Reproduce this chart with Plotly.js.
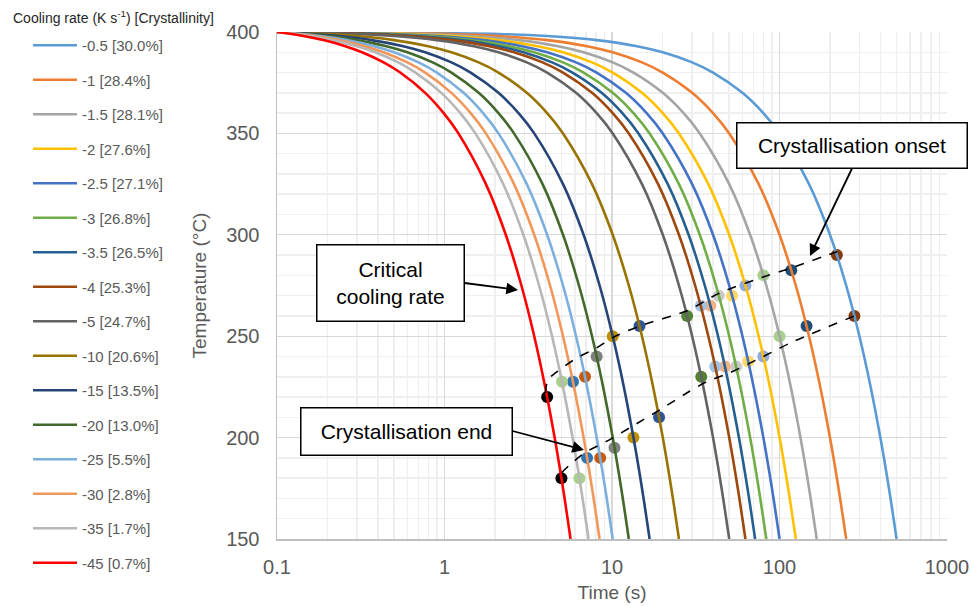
<!DOCTYPE html>
<html>
<head>
<meta charset="utf-8">
<script src="https://cdn.plot.ly/plotly-3.0.1.min.js"></script>
<style>
  html, body { margin: 0; padding: 0; background: #ffffff; }
  #chart { width: 971px; height: 606px; }
</style>
</head>
<body>
<div id="chart"></div>
<script>
// ---------------- DATA ----------------
const coolingRates = ['-0.5', '-1', '-1.5', '-2', '-2.5', '-3', '-3.5', '-4', '-5', '-10', '-15', '-20', '-25', '-30', '-35', '-45'];
const crystallinity = ['30.0%', '28.4%', '28.1%', '27.6%', '27.1%', '26.8%', '26.5%', '25.3%', '24.7%', '20.6%', '13.5%', '13.0%', '5.5%', '2.8%', '1.7%', '0.7%'];

// temperatures (°C) at which times were read for every curve
const curveTemps = [400, 399, 398, 396, 393, 390, 385, 380, 370, 360, 350, 325, 300, 275, 250, 225, 200, 175, 150];

// times (s) read for each curve at the temperatures above
const t_0_5 = [0.1, 2.1, 4.1, 8.1, 14.1, 20.1, 30.1, 40.1, 60.1, 80.1, 100.1, 150.1, 200.1, 250.1, 300.1, 350.1, 400.1, 450.1, 500.1];
const t_1   = [0.1, 1.1, 2.1, 4.1, 7.1, 10.1, 15.1, 20.1, 30.1, 40.1, 50.1, 75.1, 100.1, 125.1, 150.1, 175.1, 200.1, 225.1, 250.1];
const t_1_5 = [0.1, 0.77, 1.43, 2.77, 4.77, 6.77, 10.1, 13.43, 20.1, 26.77, 33.43, 50.1, 66.77, 83.43, 100.1, 116.8, 133.4, 150.1, 166.8];
const t_2   = [0.1, 0.6, 1.1, 2.1, 3.6, 5.1, 7.6, 10.1, 15.1, 20.1, 25.1, 37.6, 50.1, 62.6, 75.1, 87.6, 100.1, 112.6, 125.1];
const t_2_5 = [0.1, 0.5, 0.9, 1.7, 2.9, 4.1, 6.1, 8.1, 12.1, 16.1, 20.1, 30.1, 40.1, 50.1, 60.1, 70.1, 80.1, 90.1, 100.1];
const t_3   = [0.1, 0.43, 0.77, 1.43, 2.43, 3.43, 5.1, 6.77, 10.1, 13.43, 16.77, 25.1, 33.43, 41.77, 50.1, 58.43, 66.77, 75.1, 83.43];
const t_3_5 = [0.1, 0.39, 0.67, 1.24, 2.1, 2.96, 4.39, 5.81, 8.67, 11.53, 14.39, 21.53, 28.67, 35.81, 42.96, 50.1, 57.24, 64.39, 71.53];
const t_4   = [0.1, 0.35, 0.6, 1.1, 1.85, 2.6, 3.85, 5.1, 7.6, 10.1, 12.6, 18.85, 25.1, 31.35, 37.6, 43.85, 50.1, 56.35, 62.6];
const t_5   = [0.1, 0.3, 0.5, 0.9, 1.5, 2.1, 3.1, 4.1, 6.1, 8.1, 10.1, 15.1, 20.1, 25.1, 30.1, 35.1, 40.1, 45.1, 50.1];
const t_10  = [0.1, 0.2, 0.3, 0.5, 0.8, 1.1, 1.6, 2.1, 3.1, 4.1, 5.1, 7.6, 10.1, 12.6, 15.1, 17.6, 20.1, 22.6, 25.1];
const t_15  = [0.1, 0.167, 0.233, 0.367, 0.567, 0.767, 1.1, 1.433, 2.1, 2.767, 3.433, 5.1, 6.767, 8.433, 10.1, 11.77, 13.43, 15.1, 16.77];
const t_20  = [0.1, 0.15, 0.2, 0.3, 0.45, 0.6, 0.85, 1.1, 1.6, 2.1, 2.6, 3.85, 5.1, 6.35, 7.6, 8.85, 10.1, 11.35, 12.6];
const t_25  = [0.1, 0.14, 0.18, 0.26, 0.38, 0.5, 0.7, 0.9, 1.3, 1.7, 2.1, 3.1, 4.1, 5.1, 6.1, 7.1, 8.1, 9.1, 10.1];
const t_30  = [0.1, 0.133, 0.167, 0.233, 0.333, 0.433, 0.6, 0.767, 1.1, 1.433, 1.767, 2.6, 3.433, 4.267, 5.1, 5.933, 6.767, 7.6, 8.433];
const t_35  = [0.1, 0.129, 0.157, 0.214, 0.3, 0.386, 0.529, 0.671, 0.957, 1.243, 1.529, 2.243, 2.957, 3.671, 4.386, 5.1, 5.814, 6.529, 7.243];
const t_45  = [0.1, 0.122, 0.144, 0.189, 0.256, 0.322, 0.433, 0.544, 0.767, 0.989, 1.211, 1.767, 2.322, 2.878, 3.433, 3.989, 4.544, 5.1, 5.656];
const curveTimes = [t_0_5, t_1, t_1_5, t_2, t_2_5, t_3, t_3_5, t_4, t_5, t_10, t_15, t_20, t_25, t_30, t_35, t_45];

// crystallisation onset / end points (one per curve, same order)
const onsetTime = [220.1, 117.6, 80.1, 62.6, 52.1, 43.4, 38.7, 33.9, 28.1, 14.6, 10.1, 8.1, 6.9, 5.85, 5.03, 4.1];
const onsetTemp = [290, 282.5, 280, 275, 270, 270, 265, 265, 260, 255, 250, 240, 230, 227.5, 227.5, 220];
const endTime   = [280.1, 145.1, 100.1, 80.1, 65.1, 55.1, 47.2, 41.35, 34.1, 19.1, 13.43, 10.35, 8.5, 7.1, 6.39, 4.99];
const endTemp   = [260, 255, 250, 240, 237.5, 235, 235, 235, 230, 210, 200, 195, 190, 190, 180, 180];

// dashed guide lines through onset and end points
const onsetLineTime = [4.0, 4.15, 4.7, 6.2, 8.1, 10.1, 14.7, 28.1, 44.2, 84.1, 118.9, 220.3];
const onsetLineTemp = [222, 228.5, 232.5, 239.4, 244.3, 249.3, 255.1, 262.6, 271.4, 279.8, 283.8, 291.7];
const endLineTime = [5.0, 5.6, 6.9, 9.7, 12.8, 19.4, 28.1, 36.9, 50.6, 79.6, 120.5, 282.5];
const endLineTemp = [182.7, 186.6, 192.6, 199, 204.9, 213.8, 222.1, 227.6, 232, 239.9, 247.3, 260.1];

const xTickVals = [0.1, 1, 10, 100, 1000];
const xTickText = ['0.1', '1', '10', '100', '1000'];

// ---------------- STYLE ----------------
const lineColors = ['#5B9BD5', '#ED7D31', '#A5A5A5', '#FFC000', '#4472C4', '#70AD47', '#255E91', '#9E480E',
                    '#636363', '#997300', '#264478', '#43682B', '#7CAFDD', '#F1975A', '#B7B7B7', '#FF0000'];
const markerColors = ['#843C0C', '#1F4E79', '#A9D18E', '#8FAADC', '#FFD966', '#C9C9C9', '#F4B183', '#9DC3E6',
                      '#548235', '#2F5597', '#BF9000', '#7F7F7F', '#C55A11', '#2E75B6', '#A9D18E', '#000000'];

const FONT = 'Liberation Sans, Arial, sans-serif';
const W = 971, H = 606;
const M = {l: 277, r: 24, t: 32, b: 67};
const PW = W - M.l - M.r, PH = H - M.t - M.b;
const px = x => (x - M.l) / PW;          // pixel -> paper x
const py = y => (H - M.b - y) / PH;      // pixel -> paper y

const traces = [];

// markers (underneath the curves)
traces.push({
  x: onsetTime, y: onsetTemp, type: 'scatter', mode: 'markers', showlegend: false, hoverinfo: 'x+y',
  marker: {size: 12, color: markerColors, line: {width: 0}}
});
traces.push({
  x: endTime, y: endTemp, type: 'scatter', mode: 'markers', showlegend: false, hoverinfo: 'x+y',
  marker: {size: 12, color: markerColors, line: {width: 0}}
});

// cooling curves
coolingRates.forEach((r, i) => {
  traces.push({
    x: curveTimes[i], y: curveTemps, type: 'scatter', mode: 'lines',
    name: r + ' [' + crystallinity[i] + ']',
    legendgroup: 'g' + i,
    line: {color: lineColors[i], width: 2.6, shape: 'spline', smoothing: 1}
  });
});

// dashed guide lines
traces.push({
  x: onsetLineTime, y: onsetLineTemp, type: 'scatter', mode: 'lines', showlegend: false, hoverinfo: 'skip',
  line: {color: '#000000', width: 1.6, dash: 'dash', shape: 'spline', smoothing: 0.8}
});
traces.push({
  x: endLineTime, y: endLineTemp, type: 'scatter', mode: 'lines', showlegend: false, hoverinfo: 'skip',
  line: {color: '#000000', width: 1.6, dash: 'dash', shape: 'spline', smoothing: 0.8}
});

const boxFont = {family: FONT, size: 21, color: '#000000'};
const arrowStyle = {arrowhead: 2, arrowsize: 1.3, arrowwidth: 1.8, arrowcolor: '#000000'};
const annotations = [
  // legend title
  {xref: 'paper', yref: 'paper', x: px(11), y: py(17), xanchor: 'left', yanchor: 'middle', showarrow: false,
   text: 'Cooling rate (K s<sup>-1</sup>) [Crystallinity]', font: {family: FONT, size: 14, color: '#262626'}},
  // boxes with arrows (tail sits on the box edge given by the anchor)
  Object.assign({xref: 'paper', yref: 'paper', x: px(810), y: py(256), ax: 852 - 810, ay: 168.5 - 256,
   xanchor: 'center', yanchor: 'bottom', showarrow: true,
   text: 'Crystallisation onset', font: boxFont, bgcolor: '#ffffff', bordercolor: '#000000', borderwidth: 1.5,
   borderpad: 0, width: 229, height: 44}, arrowStyle),
  Object.assign({xref: 'paper', yref: 'paper', x: px(518), y: py(290), ax: 464.5 - 518, ay: 283 - 290,
   xanchor: 'right', yanchor: 'middle', showarrow: true,
   text: 'Critical<br>cooling rate', font: boxFont, bgcolor: '#ffffff', bordercolor: '#000000', borderwidth: 1.5,
   borderpad: 0, width: 146, height: 75}, arrowStyle),
  Object.assign({xref: 'paper', yref: 'paper', x: px(584), y: py(450), ax: 512.5 - 584, ay: 431 - 450,
   xanchor: 'right', yanchor: 'middle', showarrow: true,
   text: 'Crystallisation end', font: boxFont, bgcolor: '#ffffff', bordercolor: '#000000', borderwidth: 1.5,
   borderpad: 0, width: 210, height: 46}, arrowStyle)
];

const layout = {
  width: W, height: H,
  margin: M,
  paper_bgcolor: '#ffffff', plot_bgcolor: '#ffffff',
  font: {family: FONT, color: '#595959'},
  showlegend: true,
  legend: {
    x: px(28), y: py(29), xanchor: 'left', yanchor: 'top',
    font: {family: FONT, size: 15, color: '#595959'},
    tracegroupgap: 12, itemwidth: 44, maxheight: 600,
    bgcolor: 'rgba(0,0,0,0)', borderwidth: 0
  },
  xaxis: {
    type: 'log', range: [-1, 3],
    tickvals: xTickVals, ticktext: xTickText,
    tickfont: {family: FONT, size: 20, color: '#595959'}, ticklabelstandoff: 9,
    showline: true, linecolor: '#BFBFBF', linewidth: 1.5,
    showgrid: true, gridcolor: '#D9D9D9', gridwidth: 1.2,
    minor: {dtick: 'D1', showgrid: true, gridcolor: '#EFEFEF', gridwidth: 1.5, ticks: ''},
    zeroline: false, ticks: '',
    title: {text: 'Time (s)', font: {family: FONT, size: 19, color: '#595959'}, standoff: 9},
    automargin: false
  },
  yaxis: {
    range: [150, 400], dtick: 50,
    tickfont: {family: FONT, size: 20, color: '#595959'}, ticklabelstandoff: 12,
    showline: true, linecolor: '#BFBFBF', linewidth: 1.5,
    showgrid: true, gridcolor: '#D9D9D9', gridwidth: 1.2,
    minor: {dtick: 10, showgrid: true, gridcolor: '#EFEFEF', gridwidth: 1.5, ticks: ''},
    zeroline: false, ticks: '',
    title: {text: 'Temperature (°C)', font: {family: FONT, size: 19, color: '#595959'}, standoff: 14},
    automargin: false
  },
  annotations: annotations
};

Plotly.newPlot('chart', traces, layout, {displayModeBar: false, staticPlot: true});
</script>
</body>
</html>
